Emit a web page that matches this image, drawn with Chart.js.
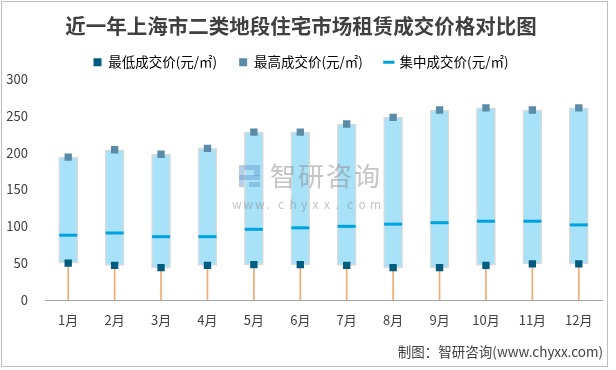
<!DOCTYPE html>
<html>
<head>
<meta charset="utf-8">
<script src="https://cdn.jsdelivr.net/npm/chart.js@4/dist/chart.umd.min.js"></script>
<style>
html,body{margin:0;padding:0;background:#fff;}
#wrap{width:616px;height:370px;}
</style>
</head>
<body>
<div id="wrap"><canvas id="c" width="616" height="370"></canvas></div>
<script>
const months = ['1月','2月','3月','4月','5月','6月','7月','8月','9月','10月','11月','12月'];
const minPrice = [50, 47, 44, 47, 48, 48, 47, 44, 44, 47, 49, 49];
const maxPrice = [194, 204, 198, 206, 228, 228, 239, 248, 258, 261, 258, 261];
const midPrice = [88, 91, 86, 86, 96, 98, 100, 103, 105, 107, 107, 102];
const yTicks = [0, 50, 100, 150, 200, 250, 300];
const seriesNames = ['最低成交价(元/㎡)', '最高成交价(元/㎡)', '集中成交价(元/㎡)'];

const FONT = "'Noto Sans CJK SC', 'Noto Sans', sans-serif";
const C_MIN = '#005d80', C_MAX = '#5a8ca8', C_MID = '#00a3e0';

const deco = {
  id: 'deco',
  afterDatasetsDraw(chart) {
    const ctx = chart.ctx;
    ctx.save();
    ctx.fillStyle = 'rgba(140,140,140,0.5)';
    ctx.font = "26px " + FONT;
    ctx.textAlign = 'left';
    ctx.textBaseline = 'middle';
    let x = 270;
    for (const ch of '智研咨询') { ctx.fillText(ch, x, 176); x += 28; }
    ctx.font = "12px " + FONT;
    x = 232;
    for (const ch of 'www.chyxx.com') { ctx.fillText(ch, x, 204); x += 11.5; }
    ctx.fillStyle = 'rgba(110,160,210,0.5)';
    ctx.fillRect(239, 165, 21, 5);
    ctx.fillRect(254, 170, 6, 6);
    ctx.fillRect(239, 175, 21, 5);
    ctx.fillRect(239, 170, 5, 17);
    ctx.fillRect(249, 182, 11, 5);
    ctx.restore();
  },
  afterDraw(chart) {
    const ctx = chart.ctx;
    ctx.save();
    ctx.strokeStyle = '#bfbfbf';
    ctx.lineWidth = 1;
    ctx.strokeRect(1.5, 1.5, 606, 365);
    ctx.fillStyle = '#404040';
    ctx.font = "13.5px " + FONT;
    ctx.textAlign = 'right';
    ctx.textBaseline = 'middle';
    ctx.fillText('制图：智研咨询(www.chyxx.com)', 603, 352);
    ctx.restore();
  }
};

new Chart(document.getElementById('c'), {
  data: {
    labels: months,
    datasets: [
      { type: 'line', label: seriesNames[0], data: minPrice, showLine: false,
        pointStyle: 'rect', pointRadius: 5.2, pointHoverRadius: 5.2, pointBorderWidth: 0,
        backgroundColor: C_MIN, borderColor: C_MIN, order: 1 },
      { type: 'line', label: seriesNames[1], data: maxPrice, showLine: false,
        pointStyle: 'rect', pointRadius: 5.2, pointHoverRadius: 5.2, pointBorderWidth: 0,
        backgroundColor: C_MAX, borderColor: C_MAX, order: 2 },
      { type: 'line', label: seriesNames[2], data: midPrice, showLine: false,
        pointStyle: 'line', pointRadius: 9, pointHoverRadius: 9, pointBorderWidth: 3,
        backgroundColor: C_MID, borderColor: C_MID, order: 3 },
      { type: 'bar', label: 'box', data: minPrice.map((v, i) => [v, maxPrice[i]]),
        backgroundColor: '#a7e2f9', borderColor: '#dadada', borderWidth: 1.5, borderSkipped: false,
        barThickness: 19, grouped: false, order: 4 },
      { type: 'bar', label: 'stem', data: minPrice.map(v => [0, v]),
        backgroundColor: '#f0ac72', borderWidth: 0, barThickness: 1, grouped: false, order: 5 }
    ]
  },
  options: {
    responsive: false,
    animation: false,
    layout: { padding: { left: 0, right: 14, top: 0, bottom: 42 } },
    plugins: {
      title: { display: true, text: '近一年上海市二类地段住宅市场租赁成交价格对比图',
        color: '#404040', font: { family: FONT, size: 20.5, weight: 'bold' },
        padding: { top: 14, bottom: -5 } },
      legend: {
        display: true, position: 'top',
        labels: {
          color: '#404040', font: { family: FONT, size: 13.5 },
          usePointStyle: true, boxWidth: 8, boxHeight: 8, padding: 22,
          generateLabels() {
            return [
              { text: seriesNames[0], fillStyle: C_MIN, strokeStyle: C_MIN, lineWidth: 0, pointStyle: 'rect', datasetIndex: 0 },
              { text: seriesNames[1], fillStyle: C_MAX, strokeStyle: C_MAX, lineWidth: 0, pointStyle: 'rect', datasetIndex: 1 },
              { text: seriesNames[2], fillStyle: C_MID, strokeStyle: C_MID, lineWidth: 3, pointStyle: 'line', datasetIndex: 2 }
            ];
          }
        }
      },
      tooltip: { enabled: false }
    },
    scales: {
      x: {
        type: 'category', offset: true,
        grid: { display: false, drawTicks: false },
        border: { display: true, color: '#a6a6a6', width: 1 },
        ticks: { color: '#404040', font: { family: FONT, size: 13 }, padding: 12, maxRotation: 0 },
        afterFit(s) { s.height = 28; }
      },
      y: {
        min: 0, max: 300,
        afterBuildTicks(s) { s.ticks = yTicks.map(v => ({ value: v })); },
        grid: { display: false, drawTicks: false },
        border: { display: false },
        ticks: { color: '#404040', font: { family: FONT, size: 13 }, padding: 17 },
        afterFit(s) { s.width = 45; }
      }
    }
  },
  plugins: [deco]
});
</script>
</body>
</html>
